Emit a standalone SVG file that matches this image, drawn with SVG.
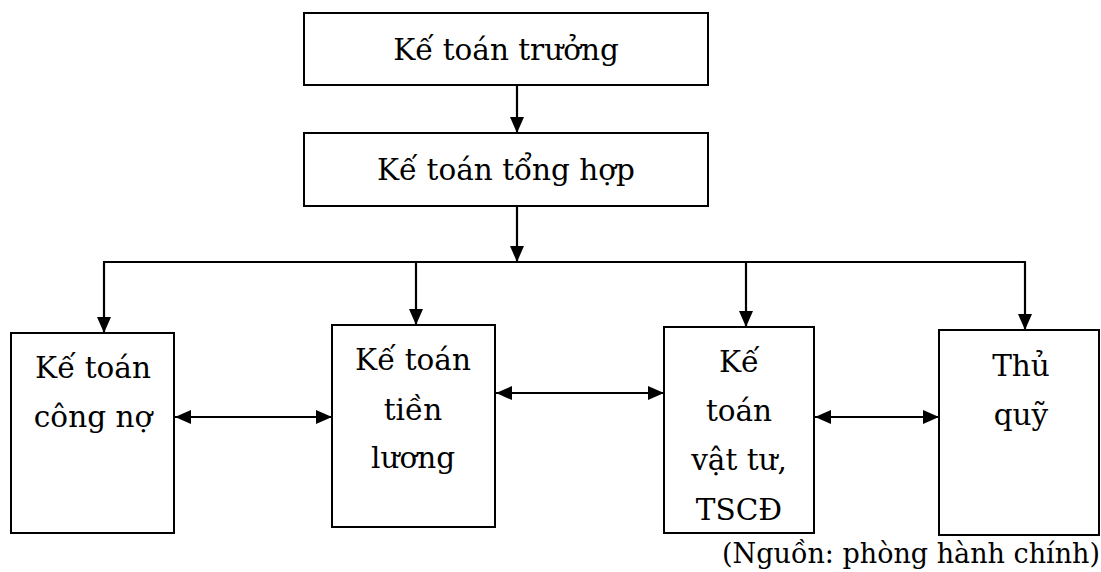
<svg xmlns="http://www.w3.org/2000/svg" width="1101" height="572" viewBox="0 0 1101 572">
  <style>
    .box { fill: #ffffff; stroke: #000000; stroke-width: 2; }
    .wire { fill: none; stroke: #000000; stroke-width: 2.2; }
  </style>
  <defs>
    <marker id="head" viewBox="0 0 16 14" refX="16" refY="7" markerWidth="16" markerHeight="14" markerUnits="userSpaceOnUse" orient="auto-start-reverse">
      <path d="M0,0 L16,7 L0,14 Z" fill="#000000"/>
    </marker>
  </defs>

  <rect width="1101" height="572" fill="#ffffff"/>

  <g id="connectors">
    <!-- chief -> general -->
    <line class="wire" x1="517" y1="85" x2="517" y2="133" marker-end="url(#head)"/>
    <!-- general -> distribution bar -->
    <line class="wire" x1="517" y1="206" x2="517" y2="262" marker-end="url(#head)"/>
    <line class="wire" x1="103" y1="262" x2="1026" y2="262"/>
    <!-- bar -> each unit -->
    <line class="wire" x1="104" y1="262" x2="104" y2="333" marker-end="url(#head)"/>
    <line class="wire" x1="416" y1="262" x2="416" y2="325" marker-end="url(#head)"/>
    <line class="wire" x1="746" y1="262" x2="746" y2="327" marker-end="url(#head)"/>
    <line class="wire" x1="1025" y1="262" x2="1025" y2="330" marker-end="url(#head)"/>
    <!-- peer links -->
    <line class="wire" x1="175" y1="417" x2="332" y2="417" marker-start="url(#head)" marker-end="url(#head)"/>
    <line class="wire" x1="496" y1="393" x2="664" y2="393" marker-start="url(#head)" marker-end="url(#head)"/>
    <line class="wire" x1="815" y1="417" x2="939" y2="417" marker-start="url(#head)" marker-end="url(#head)"/>
  </g>

  <g font-family="DejaVu Serif, serif" font-size="29.5" fill="#000000" text-anchor="middle">
    <g id="ke-toan-truong">
      <rect class="box" x="304" y="13" width="404" height="72"/>
      <text x="506" y="60">Kế toán trưởng</text>
    </g>

    <g id="ke-toan-tong-hop">
      <rect class="box" x="304" y="133" width="404" height="73"/>
      <text x="506" y="180">Kế toán tổng hợp</text>
    </g>

    <g id="ke-toan-cong-no">
      <rect class="box" x="11" y="333" width="163" height="200"/>
      <text x="93" y="378">Kế toán</text>
      <text x="93" y="427">công nợ</text>
    </g>

    <g id="ke-toan-tien-luong">
      <rect class="box" x="332" y="325" width="163" height="202"/>
      <text x="413" y="370">Kế toán</text>
      <text x="413" y="420">tiền</text>
      <text x="413" y="468">lương</text>
    </g>

    <g id="ke-toan-vat-tu">
      <rect class="box" x="664" y="327" width="150" height="206"/>
      <text x="739" y="372">Kế</text>
      <text x="739" y="421">toán</text>
      <text x="739" y="470">vật tư,</text>
      <text x="739" y="520">TSCĐ</text>
    </g>

    <g id="thu-quy">
      <rect class="box" x="939" y="330" width="160" height="205"/>
      <text x="1021" y="376">Thủ</text>
      <text x="1021" y="425">quỹ</text>
    </g>

    <text x="1100" y="563" font-size="27" text-anchor="end">(Nguồn: phòng hành chính)</text>
  </g>
</svg>
